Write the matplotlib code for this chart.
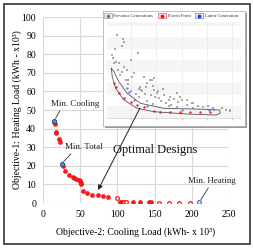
import matplotlib
matplotlib.use('Agg')
import matplotlib.pyplot as plt
from matplotlib.patches import Rectangle
from matplotlib.lines import Line2D

plt.rcParams['font.family'] = ['Liberation Serif', 'DejaVu Serif']

# ---------------- main chart data ----------------
front_cooling = [15, 15.5, 17.5, 18, 22, 23, 27, 30, 35, 40.5, 42, 45, 48, 49.5, 50.5,
                 51.5, 54, 58.5, 66.5, 73.5, 81, 88, 103.5, 106, 121, 131, 143, 145]
front_heating = [43.3, 42.5, 38, 37.4, 34.5, 33, 19.8, 17.4, 15.2, 13.8, 13.5, 13.0, 12.2,
                 11.6, 11, 10, 6.6, 5.6, 4.5, 4.3, 3.6, 3.0, 0.8, 0.5, 0.3, 0.3, 0.3, 0.3]
open_cooling = [99, 108.5, 111, 156, 170, 183, 197]
open_heating = [2.8, 0.5, 0.4, 0.2, 0.2, 0.2, 0.2]

extreme_labels = ['Min. Cooling', 'Min. Total', 'Min. Heating']
extreme_cooling = [15, 25, 210]
extreme_heating = [44.2, 21.2, 0.3]
label_cooling = [43, 54.5, 226.5]
label_heating = [53.2, 30.1, 11.8]

x_ticks = [0, 50, 100, 150, 200, 250]
y_ticks = [0, 10, 20, 30, 40, 50, 60, 70, 80, 90, 100]

# ---------------- inset data (inset units) ----------------
prev_x = [18.0, 30.2, 31.5, 28.3, 14.8, 58.0, 43.9, 16.1, 13.0, 47.4, 38.3, 84.6, 72.2,
          63.0, 81.5, 96.3, 114.8, 133.3, 158.7, 188.9, 214.3, 229.6, 31.5, 22.2, 37.6,
          50.0, 68.5, 80.9, 87.0, 74.6, 62.4, 87.0, 93.1, 105.6, 118.0, 130.2, 136.5,
          148.7, 161.1, 179.6, 198.1, 222.8, 229.0, 60, 65, 70, 90, 100, 110, 120, 95,
          85, 105, 125, 140, 150, 170, 60, 55, 45, 40, 35, 25, 20, 12, 10, 28, 75, 85,
          115, 130, 160, 200]
prev_y = [86.8, 82.3, 78.9, 74.7, 72.2, 67.2, 60.4, 58.6, 57.0, 43.0, 39.6, 39.6, 32.6,
          29.2, 24.0, 20.5, 18.8, 17.0, 15.6, 12.5, 10.1, 8.3, 53.5, 57.0, 50.0, 46.5,
          43.0, 39.6, 41.3, 36.1, 32.6, 29.2, 25.7, 24.0, 22.2, 25.7, 22.2, 18.8, 15.3,
          11.8, 10.1, 8.3, 7.3, 30, 28, 25, 22, 18, 16, 14, 28, 33, 30, 20, 19, 14, 13,
          22, 25, 28, 35, 40, 45, 50, 62, 66, 48, 18, 15, 12, 11, 10, 8]
inset_front_x = [13.0, 16.1, 22.2, 31.5, 43.9, 56.1, 68.5, 87.0, 99.4, 118.0, 136.5,
                 155.0, 173.3, 192.0]
inset_front_y = [36.5, 32.6, 25.7, 20.5, 17.0, 13.5, 11.1, 7.5, 6.5, 5.8, 5.8, 5.8, 5.8,
                 5.8]
latest_x = [37.6, 40.7, 50.0, 75.0, 140.0, 190.0]
latest_y = [31.0, 27.0, 18.8, 12.0, 8.0, 8.0]
outline_x = [8.0, 9.8, 16.1, 31.5, 56.1, 87.0, 148.1, 203.7, 211.1, 210.6, 179.6, 105.6,
             62.4, 37.6, 22.2, 13.0, 8.0]
outline_y = [51.8, 43.0, 30.9, 18.8, 10.1, 6.6, 4.2, 3.1, 4.9, 8.3, 9.1, 10.1, 15.3,
             25.7, 37.8, 48.2, 51.8]
inset_legend = ['Previous Generations', 'Pareto Front', 'Latest Generation']

W, H = 255, 249
fig = plt.figure(figsize=(W / 100, H / 100), dpi=100)


def box(x0, y0, x1, y1):
    return [x0 / W, 1 - y1 / H, (x1 - x0) / W, (y1 - y0) / H]


# ---------------- main axes ----------------
ax = fig.add_axes(box(43, 17, 229, 203), zorder=1)
ax.set_xlim(0, 250)
ax.set_ylim(0, 100)
ax.set_xticks(x_ticks)
ax.set_yticks(y_ticks)
ax.tick_params(length=0, labelsize=7, pad=5)
for s in ax.spines.values():
    s.set_visible(False)
ax.grid(True, color='#d9d9d9', lw=0.8)
ax.set_axisbelow(True)

ax.scatter(front_cooling, front_heating, s=9, c='#ff1a1a', edgecolors='#e00000',
           linewidths=0.3, zorder=3)
ax.scatter(open_cooling, open_heating, s=7, facecolors='white', edgecolors='#ff1a1a',
           linewidths=0.9, zorder=3)
ax.scatter(extreme_cooling[:2], extreme_heating[:2], s=9, c='#3d9be0',
           edgecolors='#1b3f8f', linewidths=0.6, zorder=4)
ax.scatter(extreme_cooling[2:], extreme_heating[2:], s=7, facecolors='white',
           edgecolors='#2a7bd0', linewidths=0.9, zorder=4)

relx = [0.22, 0.24, 0.47]
for lab, px, py, tx, ty, rx in zip(extreme_labels, extreme_cooling, extreme_heating,
                                   label_cooling, label_heating, relx):
    ax.annotate(lab, xy=(px, py), xytext=(tx, ty), ha='center', va='center',
                fontsize=6.5, color='#222222',
                arrowprops=dict(arrowstyle='-', color='#333333', lw=0.6,
                                shrinkA=0, shrinkB=2, relpos=(rx, 0)))

ax.set_xlabel('Objective-2: Cooling Load (kWh- x 10³)', fontsize=7, labelpad=6)
ax.set_ylabel('Objective-1: Heating Load (kWh - x10³)', fontsize=7)
ax.yaxis.set_label_coords(-(43 - 22) / 186, 0.5)

# ---------------- inset ----------------
shadow = fig.add_axes(box(105, 13, 247, 128), zorder=2)
shadow.set_facecolor('#9a9a9a')
shadow.set_xticks([]); shadow.set_yticks([])
for s in shadow.spines.values():
    s.set_visible(False)

frame = fig.add_axes(box(103, 11, 245, 126), zorder=3)
frame.set_facecolor('white')
frame.set_xticks([]); frame.set_yticks([])
for s in frame.spines.values():
    s.set_color('#b5b5b5'); s.set_linewidth(0.6)

ins = fig.add_axes(box(107, 22, 241, 118), zorder=4)
ins.set_xlim(0, 250)
ins.set_ylim(0, 100)
ins.patch.set_alpha(0)
for i, y0 in enumerate(range(0, 100, 12)):
    if i % 2 == 0:
        ins.axhspan(y0, y0 + 12, color='#f5f5f5', zorder=0, lw=0)
ins.set_xticks([45, 92, 139, 186, 233])
ins.set_yticks([])
ins.tick_params(axis='x', length=1.5, color='#c8c8c8', labelbottom=False)
ins.grid(True, axis='x', color='#e9e9e9', lw=0.5)
for s in ins.spines.values():
    s.set_visible(False)
ins.spines['bottom'].set_visible(True)
ins.spines['bottom'].set_color('#d0d0d0')
ins.spines['bottom'].set_linewidth(0.5)

ins.scatter(prev_x, prev_y, s=0.7, marker='s', c='#a8a8a8', linewidths=0, zorder=2)
ins.scatter(latest_x, latest_y, s=2.5, c='#5a6fe0', linewidths=0, zorder=3)
ins.scatter(inset_front_x, inset_front_y, s=3, c='#ff1a1a', linewidths=0, zorder=3)
ins.plot(outline_x, outline_y, color='#555555', lw=0.6, zorder=4)

# inset legend
leg_items = [(104, 113, '#8a8a8a', '#eeeeee', '#777777'),
             (158, 168, '#d04040', '#f6dede', '#ff0000'),
             (195, 205, '#5060c0', '#e0e4f6', '#2030e0')]
for (ix, tx, ec, fc, dc), lab in zip(leg_items, inset_legend):
    fig.patches.append(Rectangle((ix / W, 1 - 18.5 / H), 8 / W, 5.5 / H,
                                 transform=fig.transFigure, facecolor=fc,
                                 edgecolor=ec, lw=0.4, zorder=6))
    fig.lines.append(Line2D([(ix + 4) / W], [1 - 15.8 / H], marker='o', ms=1.6,
                            color=dc, transform=fig.transFigure, zorder=7))
    fig.text(tx / W, 1 - 15.8 / H, lab, fontsize=3.3, va='center', ha='left',
             color='#333333', zorder=7)

# ---------------- overlay for the arrow ----------------
top = fig.add_axes(ax.get_position(), zorder=10)
top.set_xlim(0, 250)
top.set_ylim(0, 100)
top.axis('off')
top.patch.set_alpha(0)
top.text(150.5, 28.5, 'Optimal Designs', fontsize=9, ha='center', va='center',
         color='#111111')
top.annotate('', xy=(74, 7), xytext=(130.4, 51.1), annotation_clip=False,
             arrowprops=dict(arrowstyle='-|>', color='#222222', lw=0.7,
                             mutation_scale=7, shrinkA=0, shrinkB=0))

# outer frame
fig.patches.append(Rectangle((4.5 / W, 5.5 / H), 246 / W, 239.5 / H,
                             transform=fig.transFigure, fill=False,
                             edgecolor='#222222', lw=1.1, zorder=20))

fig.savefig('out.png', dpi=100)
